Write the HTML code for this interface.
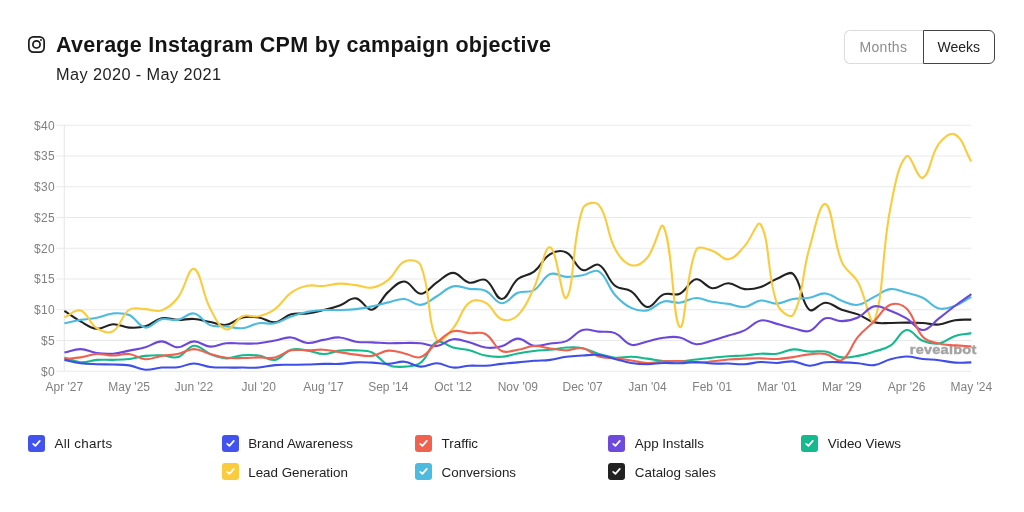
<!DOCTYPE html>
<html lang="en">
<head>
<meta charset="utf-8">
<title>Average Instagram CPM by campaign objective</title>
<style>
html,body{margin:0;padding:0;background:#fff;}
body{width:1024px;height:512px;position:relative;overflow:hidden;font-family:"Liberation Sans",sans-serif;color:#1a1a1a;}
.title{position:absolute;left:56px;top:31.6px;font-size:21.5px;font-weight:bold;line-height:26px;white-space:nowrap;color:#151515;letter-spacing:0.28px;}
.sub{position:absolute;left:56px;top:64.1px;font-size:16.3px;line-height:20px;white-space:nowrap;color:#222;letter-spacing:0.42px;}
.ig{position:absolute;left:28.1px;top:35.5px;width:17px;height:17px;}
.btns{position:absolute;left:844px;top:29.7px;height:34px;display:flex;}
.btn{box-sizing:border-box;height:34px;font-size:14px;line-height:33.6px;text-align:center;border:1px solid #dcdcdc;color:#8c8c8c;background:#fff;}
.btn.m{width:79px;letter-spacing:0.3px;padding-right:1.2px;border-radius:6px 0 0 6px;border-right:none;}
.btn.w{width:71.5px;border-radius:0 6px 6px 0;border-color:#444;color:#222;}
svg.chart{position:absolute;left:0;top:0;}
svg.chart text{font-family:"Liberation Sans",sans-serif;font-size:12px;fill:#808080;}
.legend{position:absolute;font-size:13.4px;line-height:18px;color:#222;white-space:nowrap;}
.cb{position:absolute;width:17px;height:17px;border-radius:3px;}
.cb svg{position:absolute;left:0;top:0;}
.wm{position:absolute;left:910px;top:341px;font-size:12px;font-weight:bold;letter-spacing:1.3px;color:#a9a9a9;line-height:16px;}
</style>
</head>
<body>
<svg class="ig" viewBox="0 0 17 17" fill="none" stroke="#1a1a1a" stroke-width="1.7">
<rect x="0.85" y="0.85" width="15.3" height="15.3" rx="4.6"/>
<circle cx="8.5" cy="8.4" r="3.6"/>
<circle cx="13" cy="4" r="0.95" fill="#1a1a1a" stroke="none"/>
</svg>
<div class="title">Average Instagram CPM by campaign objective</div>
<div class="sub">May 2020 - May 2021</div>
<div class="btns"><div class="btn m">Months</div><div class="btn w">Weeks</div></div>

<svg class="chart" width="1024" height="512" viewBox="0 0 1024 512">
<g stroke="#e9e9e9" stroke-width="1.2">
<line x1="56.5" x2="971.5" y1="371.25" y2="371.25"/>
<line x1="56.5" x2="971.5" y1="340.50" y2="340.50"/>
<line x1="56.5" x2="971.5" y1="309.75" y2="309.75"/>
<line x1="56.5" x2="971.5" y1="279.00" y2="279.00"/>
<line x1="56.5" x2="971.5" y1="248.25" y2="248.25"/>
<line x1="56.5" x2="971.5" y1="217.50" y2="217.50"/>
<line x1="56.5" x2="971.5" y1="186.75" y2="186.75"/>
<line x1="56.5" x2="971.5" y1="156.00" y2="156.00"/>
<line x1="56.5" x2="971.5" y1="125.25" y2="125.25"/>

<line x1="64.3" x2="64.3" y1="125.25" y2="371.25"/>
</g>
<g>
<text x="55" y="375.55" text-anchor="end" letter-spacing="0.35">$0</text>
<text x="55" y="344.80" text-anchor="end" letter-spacing="0.35">$5</text>
<text x="55" y="314.05" text-anchor="end" letter-spacing="0.35">$10</text>
<text x="55" y="283.30" text-anchor="end" letter-spacing="0.35">$15</text>
<text x="55" y="252.55" text-anchor="end" letter-spacing="0.35">$20</text>
<text x="55" y="221.80" text-anchor="end" letter-spacing="0.35">$25</text>
<text x="55" y="191.05" text-anchor="end" letter-spacing="0.35">$30</text>
<text x="55" y="160.30" text-anchor="end" letter-spacing="0.35">$35</text>
<text x="55" y="129.55" text-anchor="end" letter-spacing="0.35">$40</text>

</g>
<g>
<text x="64.40" y="391.3" text-anchor="middle">Apr '27</text>
<text x="129.18" y="391.3" text-anchor="middle">May '25</text>
<text x="193.96" y="391.3" text-anchor="middle">Jun '22</text>
<text x="258.74" y="391.3" text-anchor="middle">Jul '20</text>
<text x="323.52" y="391.3" text-anchor="middle">Aug '17</text>
<text x="388.30" y="391.3" text-anchor="middle">Sep '14</text>
<text x="453.08" y="391.3" text-anchor="middle">Oct '12</text>
<text x="517.86" y="391.3" text-anchor="middle">Nov '09</text>
<text x="582.64" y="391.3" text-anchor="middle">Dec '07</text>
<text x="647.42" y="391.3" text-anchor="middle">Jan '04</text>
<text x="712.20" y="391.3" text-anchor="middle">Feb '01</text>
<text x="776.98" y="391.3" text-anchor="middle">Mar '01</text>
<text x="841.76" y="391.3" text-anchor="middle">Mar '29</text>
<text x="906.54" y="391.3" text-anchor="middle">Apr '26</text>
<text x="971.32" y="391.3" text-anchor="middle">May '24</text>

</g>
<text id="wm" transform="translate(909.8,353.9) scale(1.145,1)" style="font-size:12.7px;font-weight:bold;fill:#a4a4a4;stroke:#a4a4a4;stroke-width:0.45px;letter-spacing:0.2px">revealbot</text>
<g fill="none" stroke-width="2.1" stroke-linecap="butt" stroke-linejoin="round">
<path d="M64.40 310.98C70.88 315.16 73.86 317.73 80.59 321.44C86.81 324.86 90.13 328.25 96.79 328.81C103.09 329.35 106.45 324.45 112.99 324.20C119.41 323.96 122.64 327.15 129.18 327.58C135.60 328.01 139.24 328.10 145.38 326.36C152.20 324.41 154.75 319.72 161.57 318.36C167.71 317.14 171.28 319.77 177.77 319.90C184.23 320.02 187.53 318.55 193.96 318.98C200.49 319.41 203.67 320.88 210.16 322.05C216.62 323.22 220.13 325.70 226.35 324.82C233.09 323.86 235.76 318.98 242.55 317.44C248.72 316.03 252.40 316.48 258.74 317.44C265.36 318.44 268.67 322.95 274.94 322.36C281.62 321.72 284.30 316.24 291.13 314.36C297.26 312.67 300.91 314.29 307.33 313.44C313.87 312.57 317.10 311.64 323.52 310.06C330.06 308.44 333.39 307.73 339.72 305.44C346.35 303.05 349.80 297.56 355.91 298.37C362.75 299.28 366.26 310.91 372.11 309.75C379.22 308.33 381.10 298.20 388.30 291.91C394.06 286.89 398.19 281.10 404.50 281.46C411.15 281.84 414.12 293.57 420.69 293.76C427.08 293.94 430.24 286.67 436.88 282.38C443.20 278.31 446.63 272.79 453.08 272.85C459.59 272.91 462.34 281.17 469.27 282.69C475.29 284.00 480.33 277.34 485.47 279.92C493.29 283.86 495.28 299.17 501.66 298.99C508.23 298.80 510.20 285.47 517.86 279.00C523.16 274.52 528.52 275.88 534.06 271.62C541.48 265.91 542.55 258.63 550.25 254.09C555.50 251.00 561.19 249.96 566.45 252.56C574.15 256.36 575.08 267.21 582.64 270.08C588.03 272.13 593.76 262.40 598.84 264.86C606.72 268.67 607.16 279.34 615.03 285.76C620.12 289.92 625.63 287.64 631.23 291.30C638.59 296.12 640.64 306.34 647.42 306.98C653.59 307.57 656.38 297.33 663.62 294.38C669.33 292.04 674.27 296.34 679.81 293.76C687.23 290.31 689.01 280.50 696.00 279.31C701.96 278.29 705.44 287.39 712.20 288.23C718.39 288.99 721.97 283.12 728.39 283.31C734.93 283.49 737.94 288.39 744.59 289.15C750.90 289.87 754.66 288.97 760.78 287.00C767.61 284.79 770.25 281.38 776.98 278.69C783.21 276.21 789.28 270.35 793.17 274.08C802.24 282.77 800.44 301.87 809.37 309.75C813.40 313.31 819.09 302.68 825.56 302.68C832.04 302.68 835.13 307.36 841.76 309.75C848.08 312.03 851.70 311.93 857.96 314.36C864.66 316.97 867.32 320.54 874.15 322.36C880.28 323.99 883.87 322.91 890.35 322.97C896.82 323.03 900.06 322.66 906.54 322.66C913.02 322.66 916.27 322.60 922.74 322.97C929.23 323.34 932.55 325.06 938.93 324.51C945.50 323.95 948.54 321.21 955.12 320.20C961.49 319.24 964.84 319.84 971.32 319.59" stroke="#222222"/>
<path d="M64.40 323.28C70.88 321.93 74.08 321.01 80.59 319.90C87.03 318.80 90.39 319.02 96.79 317.75C103.35 316.44 106.41 314.00 112.99 313.44C119.37 312.89 123.45 312.48 129.18 314.98C136.41 318.13 138.51 326.67 145.38 327.58C151.46 328.39 154.72 320.91 161.57 319.28C167.67 317.83 171.52 321.02 177.77 319.90C184.48 318.69 187.92 312.47 193.96 313.44C200.88 314.56 203.01 322.28 210.16 325.12C215.97 327.44 219.88 325.74 226.35 326.36C232.84 326.97 236.19 328.80 242.55 328.20C249.15 327.57 252.12 324.29 258.74 323.28C265.08 322.32 268.72 324.58 274.94 323.28C281.67 321.87 284.52 318.84 291.13 316.51C297.47 314.29 300.74 313.22 307.33 311.90C313.70 310.63 317.02 310.43 323.52 310.06C329.98 309.69 333.24 310.24 339.72 310.06C346.20 309.87 349.47 309.87 355.91 309.13C362.43 308.39 365.68 307.71 372.11 306.37C378.63 305.00 381.80 303.85 388.30 302.37C394.75 300.90 398.15 298.51 404.50 298.99C411.10 299.49 414.42 305.37 420.69 304.83C427.37 304.26 430.51 299.85 436.88 296.22C443.47 292.47 446.13 287.96 453.08 286.38C459.09 285.01 462.78 287.98 469.27 288.84C475.74 289.70 479.74 288.13 485.47 290.69C492.69 293.91 494.98 302.85 501.66 303.29C507.94 303.71 510.87 295.69 517.86 292.84C523.82 290.40 528.62 293.22 534.06 290.07C541.58 285.71 542.73 277.15 550.25 274.08C555.68 271.86 559.93 276.60 566.45 276.85C572.89 277.09 576.24 276.40 582.64 275.31C589.20 274.19 594.07 268.42 598.84 271.31C607.03 276.29 607.51 286.49 615.03 294.99C620.46 301.13 623.99 304.47 631.23 307.90C636.95 310.62 641.33 311.58 647.42 310.37C654.29 309.00 656.72 303.08 663.62 301.45C669.67 300.01 673.45 303.34 679.81 302.68C686.40 301.99 689.48 298.25 696.00 298.06C702.44 297.88 705.67 300.58 712.20 301.75C718.62 302.91 721.95 302.87 728.39 303.91C734.90 304.96 738.29 307.64 744.59 306.98C751.25 306.29 754.13 301.22 760.78 300.52C767.08 299.87 770.57 303.90 776.98 303.60C783.53 303.29 786.58 300.18 793.17 298.99C799.54 297.84 802.99 298.85 809.37 297.76C815.95 296.63 819.28 292.86 825.56 293.45C832.24 294.09 835.07 298.48 841.76 300.83C848.03 303.03 851.73 305.60 857.96 304.83C864.69 304.00 867.65 299.98 874.15 296.83C880.60 293.71 883.62 289.98 890.35 289.15C896.58 288.38 900.12 291.13 906.54 292.84C913.08 294.58 916.71 294.84 922.74 297.76C929.66 301.11 931.91 306.79 938.93 308.52C944.86 309.98 949.03 307.95 955.12 305.75C961.98 303.28 964.84 300.40 971.32 296.83" stroke="#4DBBE0"/>
<path d="M64.40 317.38C70.88 314.65 75.11 308.72 80.59 310.55C88.07 313.05 89.12 323.29 96.79 328.20C102.07 331.58 108.07 334.08 112.99 331.27C121.02 326.70 121.09 315.28 129.18 309.75C134.05 306.42 138.90 309.01 145.38 309.13C151.86 309.26 155.85 312.38 161.57 310.37C168.80 307.82 172.81 304.11 177.77 297.76C185.77 287.50 188.31 266.98 193.96 268.85C201.27 271.28 202.14 293.54 210.16 308.52C215.10 317.77 219.11 327.71 226.35 329.43C232.07 330.79 235.24 319.19 242.55 316.21C248.20 313.90 252.54 317.56 258.74 316.21C265.50 314.73 269.33 313.23 274.94 309.13C282.29 303.76 283.75 297.85 291.13 292.53C296.71 288.50 300.59 287.11 307.33 285.76C313.54 284.53 317.08 286.50 323.52 286.07C330.03 285.64 333.21 283.80 339.72 283.61C346.17 283.43 349.45 284.35 355.91 285.15C362.41 285.95 365.92 288.61 372.11 287.61C378.87 286.52 382.83 284.33 388.30 279.92C395.79 273.88 396.78 264.91 404.50 261.47C409.74 259.13 418.36 259.83 420.69 265.47C431.32 291.20 426.62 320.01 436.88 339.88C439.58 345.10 447.93 334.12 453.08 328.20C460.88 319.24 460.84 309.32 469.27 302.68C473.79 299.12 480.14 299.95 485.47 302.68C493.10 306.59 494.13 316.35 501.66 319.28C507.08 321.39 513.43 319.62 517.86 315.28C526.38 306.95 528.55 299.16 534.06 287.61C541.51 271.97 544.41 245.50 550.25 247.33C557.37 249.56 561.66 303.44 566.45 297.76C574.61 288.07 571.70 240.25 582.64 208.89C584.66 203.10 595.43 200.69 598.84 204.89C608.39 216.68 606.34 232.69 615.03 248.87C619.29 256.80 623.95 263.23 631.23 265.16C636.90 266.67 643.01 262.71 647.42 257.48C655.97 247.33 660.31 219.64 663.62 226.72C673.27 247.43 672.51 321.70 679.81 326.97C685.46 331.05 685.26 275.38 696.00 250.09C698.22 244.88 706.12 248.98 712.20 250.71C719.08 252.67 722.34 260.18 728.39 259.32C735.30 258.34 738.93 252.17 744.59 246.10C751.88 238.27 757.54 218.81 760.78 224.57C770.50 241.82 766.56 274.61 776.98 303.60C779.51 310.65 790.29 319.61 793.17 314.67C803.24 297.47 801.70 274.46 809.37 248.25C814.66 230.18 819.87 201.59 825.56 203.97C832.82 207.00 832.72 239.97 841.76 261.78C845.67 271.21 853.00 273.05 857.96 282.07C865.96 296.67 870.66 328.78 874.15 320.82C883.61 299.26 881.58 252.78 890.35 208.27C894.54 186.97 897.87 164.45 906.54 156.31C910.83 152.28 917.34 179.93 922.74 177.83C930.30 174.89 930.25 155.31 938.93 143.70C943.21 137.97 950.31 131.82 955.12 134.47C963.27 138.96 964.84 150.71 971.32 161.53" stroke="#FBCB3E"/>
<path d="M64.40 357.41C70.88 359.38 74.01 361.83 80.59 362.33C86.97 362.82 90.28 360.37 96.79 359.87C103.23 359.38 106.51 360.06 112.99 359.87C119.47 359.69 122.75 359.74 129.18 358.95C135.71 358.14 138.84 356.62 145.38 355.88C151.80 355.14 155.11 355.01 161.57 355.26C168.07 355.51 171.91 358.83 177.77 357.11C184.87 355.01 187.21 346.37 193.96 345.73C200.17 345.14 203.41 351.40 210.16 354.03C216.37 356.45 219.82 358.09 226.35 358.33C232.77 358.58 236.01 355.82 242.55 355.26C248.97 354.71 252.37 354.66 258.74 355.57C265.33 356.51 268.88 360.96 274.94 359.87C281.84 358.63 284.12 351.79 291.13 349.73C297.08 347.98 300.93 349.49 307.33 350.34C313.88 351.21 317.03 353.97 323.52 354.03C329.99 354.09 333.17 351.39 339.72 350.65C346.12 349.92 349.46 349.97 355.91 350.34C362.42 350.71 366.36 349.88 372.11 352.49C379.32 355.78 381.07 361.94 388.30 365.10C394.03 367.60 398.10 367.12 404.50 366.64C411.05 366.14 415.68 366.49 420.69 362.64C428.64 356.53 429.04 345.38 436.88 341.73C441.99 339.35 446.45 345.81 453.08 347.57C459.41 349.25 462.91 348.77 469.27 350.34C475.87 351.97 478.84 354.25 485.47 355.57C491.80 356.83 495.25 357.22 501.66 356.80C508.20 356.36 511.35 354.59 517.86 353.42C524.31 352.25 527.55 351.70 534.06 350.95C540.51 350.22 543.79 350.40 550.25 349.73C556.75 349.05 559.94 347.88 566.45 347.57C572.90 347.27 576.36 346.94 582.64 348.19C589.31 349.52 592.24 352.09 598.84 354.03C605.20 355.90 608.48 357.16 615.03 357.72C621.43 358.27 624.76 356.61 631.23 356.80C637.72 356.98 640.96 357.78 647.42 358.64C653.91 359.51 657.10 360.55 663.62 361.10C670.06 361.65 673.35 361.72 679.81 361.41C686.31 361.10 689.53 360.30 696.00 359.56C702.48 358.83 705.72 358.40 712.20 357.72C718.67 357.04 721.90 356.61 728.39 356.18C734.86 355.75 738.13 356.06 744.59 355.57C751.09 355.07 754.29 354.09 760.78 353.72C767.24 353.35 770.61 354.57 776.98 353.72C783.57 352.85 786.61 349.85 793.17 349.42C799.57 348.99 802.86 351.14 809.37 351.57C815.82 352.00 819.29 350.44 825.56 351.57C832.24 352.77 835.10 356.53 841.76 357.41C848.05 358.25 851.57 357.03 857.96 355.88C864.53 354.69 867.76 353.57 874.15 351.57C880.72 349.51 884.73 349.46 890.35 345.73C897.69 340.85 899.58 331.10 906.54 330.05C912.54 329.13 915.71 337.87 922.74 340.81C928.67 343.29 932.73 344.52 938.93 343.57C945.69 342.55 948.36 338.07 955.12 335.89C961.32 333.89 964.84 334.23 971.32 333.12" stroke="#14B98D"/>
<path d="M64.40 352.49C70.88 351.14 74.14 348.99 80.59 349.11C87.10 349.23 90.22 352.17 96.79 353.11C103.17 354.02 106.56 354.21 112.99 353.72C119.52 353.23 122.71 351.94 129.18 350.65C135.67 349.35 139.03 349.07 145.38 347.26C151.98 345.38 155.09 341.42 161.57 341.42C168.05 341.42 171.29 347.26 177.77 347.26C184.24 347.26 187.44 341.55 193.96 341.42C200.40 341.30 203.59 346.28 210.16 346.65C216.54 347.01 219.80 343.89 226.35 343.27C232.76 342.66 236.07 343.57 242.55 343.57C249.02 343.57 252.31 343.88 258.74 343.27C265.26 342.65 268.47 341.67 274.94 340.50C281.42 339.33 284.77 336.94 291.13 337.43C297.73 337.93 300.73 342.46 307.33 342.96C313.68 343.44 317.02 341.00 323.52 339.88C329.98 338.78 333.31 337.06 339.72 337.43C346.27 337.80 349.32 340.73 355.91 341.73C362.28 342.70 365.63 342.04 372.11 342.35C378.59 342.65 381.82 343.14 388.30 343.27C394.77 343.39 398.02 342.96 404.50 342.96C410.97 342.96 414.26 342.66 420.69 343.27C427.21 343.89 430.62 346.81 436.88 346.04C443.58 345.21 446.40 340.03 453.08 339.27C459.35 338.56 462.90 340.71 469.27 342.35C475.86 344.03 478.84 346.75 485.47 347.57C491.80 348.35 495.51 348.04 501.66 346.34C508.46 344.47 511.34 338.78 517.86 338.65C524.29 338.53 527.32 344.70 534.06 345.73C540.28 346.67 543.78 344.50 550.25 343.57C556.74 342.65 560.55 343.58 566.45 341.12C573.51 338.17 575.56 332.13 582.64 330.05C588.51 328.32 592.36 330.97 598.84 331.58C605.31 332.20 609.21 330.75 615.03 333.12C622.17 336.03 624.14 342.99 631.23 344.81C637.10 346.31 640.95 342.83 647.42 341.42C653.91 340.01 657.06 338.54 663.62 337.73C670.01 336.94 673.59 336.19 679.81 337.43C686.55 338.77 689.35 343.56 696.00 344.19C702.30 344.79 705.78 342.21 712.20 340.50C718.74 338.76 721.93 337.60 728.39 335.58C734.89 333.55 738.46 333.20 744.59 330.35C751.42 327.18 753.87 321.89 760.78 320.51C766.82 319.31 770.54 322.37 776.98 323.89C783.50 325.44 786.63 326.77 793.17 328.20C799.59 329.60 803.61 332.72 809.37 330.97C816.57 328.78 818.37 320.55 825.56 318.36C831.33 316.61 835.32 321.31 841.76 321.13C848.27 320.94 852.01 320.14 857.96 317.44C864.97 314.24 867.16 307.83 874.15 306.37C880.12 305.12 884.09 308.35 890.35 310.67C897.04 313.15 900.41 314.69 906.54 318.36C913.37 322.44 916.26 330.05 922.74 330.05C929.21 330.05 932.54 323.15 938.93 318.36C945.50 313.44 948.56 310.68 955.12 305.75C961.51 300.96 964.84 298.74 971.32 294.07" stroke="#6B47DC"/>
<path d="M64.40 358.95C70.88 358.33 74.17 358.39 80.59 357.41C87.13 356.42 90.26 354.40 96.79 354.03C103.21 353.66 106.51 355.57 112.99 355.57C119.46 355.57 122.85 353.31 129.18 354.03C135.80 354.78 138.81 358.88 145.38 359.26C151.76 359.62 155.04 356.93 161.57 355.88C168.00 354.84 171.41 355.36 177.77 354.03C184.37 352.65 187.48 349.11 193.96 349.11C200.44 349.11 203.62 352.29 210.16 354.03C216.57 355.74 219.79 356.91 226.35 357.72C232.75 358.51 236.07 358.09 242.55 358.03C249.02 357.97 252.26 357.54 258.74 357.41C265.22 357.29 268.74 358.77 274.94 357.41C281.70 355.94 284.37 351.82 291.13 350.34C297.33 348.99 300.85 350.46 307.33 350.34C313.81 350.22 317.08 349.36 323.52 349.73C330.03 350.10 333.24 351.20 339.72 352.19C346.19 353.17 349.40 353.90 355.91 354.64C362.36 355.38 365.78 356.66 372.11 355.88C378.73 355.06 381.71 351.15 388.30 350.65C394.66 350.16 398.05 352.13 404.50 353.42C411.01 354.71 415.07 358.97 420.69 357.11C428.03 354.67 430.11 348.06 436.88 342.65C443.06 337.72 445.98 333.37 453.08 331.27C458.93 329.55 462.78 332.57 469.27 333.12C475.74 333.67 480.17 331.12 485.47 334.04C493.12 338.26 494.02 347.25 501.66 350.95C506.97 353.52 511.45 350.70 517.86 349.73C524.41 348.73 527.53 346.28 534.06 346.04C540.49 345.79 543.76 347.63 550.25 348.50C556.71 349.35 559.97 350.40 566.45 350.34C572.93 350.28 576.51 347.02 582.64 348.19C589.47 349.48 592.00 354.35 598.84 356.49C604.96 358.41 608.56 357.54 615.03 358.33C621.52 359.14 624.76 359.57 631.23 360.49C637.71 361.41 640.92 362.76 647.42 362.95C653.88 363.13 657.12 361.78 663.62 361.41C670.08 361.04 673.35 360.86 679.81 361.10C686.30 361.35 689.52 362.58 696.00 362.64C702.48 362.70 705.73 362.02 712.20 361.41C718.69 360.79 721.90 360.12 728.39 359.56C734.86 359.01 738.11 358.89 744.59 358.64C751.06 358.40 754.31 358.27 760.78 358.33C767.26 358.40 770.52 359.20 776.98 358.95C783.48 358.70 786.72 358.02 793.17 357.11C799.68 356.18 802.85 354.96 809.37 354.34C815.80 353.73 819.30 352.90 825.56 354.03C832.26 355.24 836.85 362.79 841.76 360.18C849.81 355.90 850.70 345.49 857.96 336.81C863.65 329.99 867.79 327.71 874.15 321.44C880.75 314.92 882.80 307.84 890.35 304.83C895.75 302.67 902.17 304.20 906.54 308.52C915.12 316.99 914.31 327.70 922.74 336.81C927.27 341.72 932.21 341.79 938.93 343.57C945.17 345.23 948.63 344.87 955.12 345.42C961.59 345.97 964.84 345.97 971.32 346.34" stroke="#F0624F"/>
<path d="M64.40 359.87C70.88 361.23 74.05 362.39 80.59 363.25C87.01 364.11 90.31 363.93 96.79 364.18C103.26 364.42 106.51 364.24 112.99 364.49C119.47 364.73 122.81 364.38 129.18 365.41C135.76 366.47 138.81 369.28 145.38 369.71C151.77 370.14 155.06 368.05 161.57 367.56C168.02 367.07 171.37 368.04 177.77 367.25C184.32 366.44 187.47 363.62 193.96 363.56C200.43 363.50 203.61 366.14 210.16 366.94C216.57 367.74 219.87 367.44 226.35 367.56C232.83 367.68 236.07 367.56 242.55 367.56C249.02 367.56 252.30 368.05 258.74 367.56C265.25 367.07 268.42 365.66 274.94 365.10C281.38 364.55 284.65 364.92 291.13 364.79C297.61 364.67 300.85 364.67 307.33 364.49C313.80 364.30 317.04 363.99 323.52 363.87C330.00 363.75 333.25 364.18 339.72 363.87C346.21 363.56 349.42 362.58 355.91 362.33C362.37 362.09 365.64 362.33 372.11 362.64C378.59 362.95 381.84 364.05 388.30 363.87C394.80 363.68 398.13 361.17 404.50 361.72C411.09 362.28 414.14 366.33 420.69 366.64C427.09 366.94 430.45 363.07 436.88 363.25C443.40 363.44 446.51 367.06 453.08 367.56C459.47 368.05 462.78 366.09 469.27 365.71C475.73 365.35 479.01 366.08 485.47 365.71C491.97 365.34 495.18 364.55 501.66 363.87C508.14 363.19 511.38 362.95 517.86 362.33C524.34 361.72 527.57 361.29 534.06 360.80C540.52 360.30 543.82 360.67 550.25 359.87C556.78 359.07 559.92 357.66 566.45 356.80C572.87 355.94 576.16 355.94 582.64 355.57C589.11 355.20 592.45 354.29 598.84 354.95C605.41 355.64 608.55 357.35 615.03 358.95C621.51 360.55 624.66 361.89 631.23 362.95C637.62 363.98 640.94 364.18 647.42 364.18C653.90 364.18 657.13 363.13 663.62 362.95C670.08 362.76 673.34 363.44 679.81 363.25C686.30 363.07 689.53 361.96 696.00 362.02C702.49 362.09 705.71 363.25 712.20 363.56C718.66 363.87 721.92 363.44 728.39 363.56C734.88 363.69 738.14 364.48 744.59 364.18C751.09 363.87 754.28 362.27 760.78 362.02C767.24 361.78 770.51 363.07 776.98 362.95C783.47 362.82 786.79 360.86 793.17 361.41C799.75 361.97 802.85 365.53 809.37 365.71C815.81 365.90 819.02 363.02 825.56 362.33C831.97 361.66 835.29 362.15 841.76 362.33C848.24 362.52 851.49 362.70 857.96 363.25C864.45 363.81 867.85 365.88 874.15 365.10C880.81 364.28 883.72 361.02 890.35 359.26C896.67 357.58 900.05 356.55 906.54 356.49C913.01 356.43 916.23 358.21 922.74 358.95C929.19 359.68 932.48 359.45 938.93 360.18C945.44 360.92 948.61 362.21 955.12 362.64C961.57 363.07 964.84 362.46 971.32 362.33" stroke="#3E4EEA"/>

</g>
</svg>

<div class="cb" style="left:27.9px;top:434.8px;background:#4252EE"><svg width="17" height="17" viewBox="0 0 17 17"><path d="M5.2 8.8L7.4 10.9L11.8 5.9" fill="none" stroke="#fff" stroke-width="1.7" stroke-linecap="round" stroke-linejoin="round"/></svg></div>
<div class="legend" style="left:54.5px;top:435.2px;letter-spacing:0.3px">All charts</div>
<div class="cb" style="left:221.6px;top:434.8px;background:#4252EE"><svg width="17" height="17" viewBox="0 0 17 17"><path d="M5.2 8.8L7.4 10.9L11.8 5.9" fill="none" stroke="#fff" stroke-width="1.7" stroke-linecap="round" stroke-linejoin="round"/></svg></div>
<div class="legend" style="left:248.2px;top:435.2px">Brand Awareness</div>
<div class="cb" style="left:221.6px;top:463.1px;background:#FBCB3E"><svg width="17" height="17" viewBox="0 0 17 17"><path d="M5.2 8.8L7.4 10.9L11.8 5.9" fill="none" stroke="#fff" stroke-width="1.7" stroke-linecap="round" stroke-linejoin="round"/></svg></div>
<div class="legend" style="left:248.2px;top:463.5px">Lead Generation</div>
<div class="cb" style="left:415.0px;top:434.8px;background:#F0624F"><svg width="17" height="17" viewBox="0 0 17 17"><path d="M5.2 8.8L7.4 10.9L11.8 5.9" fill="none" stroke="#fff" stroke-width="1.7" stroke-linecap="round" stroke-linejoin="round"/></svg></div>
<div class="legend" style="left:441.6px;top:435.2px">Traffic</div>
<div class="cb" style="left:415.0px;top:463.1px;background:#4DBBE0"><svg width="17" height="17" viewBox="0 0 17 17"><path d="M5.2 8.8L7.4 10.9L11.8 5.9" fill="none" stroke="#fff" stroke-width="1.7" stroke-linecap="round" stroke-linejoin="round"/></svg></div>
<div class="legend" style="left:441.6px;top:463.5px">Conversions</div>
<div class="cb" style="left:608.2px;top:434.8px;background:#6E49DE"><svg width="17" height="17" viewBox="0 0 17 17"><path d="M5.2 8.8L7.4 10.9L11.8 5.9" fill="none" stroke="#fff" stroke-width="1.7" stroke-linecap="round" stroke-linejoin="round"/></svg></div>
<div class="legend" style="left:634.8px;top:435.2px">App Installs</div>
<div class="cb" style="left:608.2px;top:463.1px;background:#222222"><svg width="17" height="17" viewBox="0 0 17 17"><path d="M5.2 8.8L7.4 10.9L11.8 5.9" fill="none" stroke="#fff" stroke-width="1.7" stroke-linecap="round" stroke-linejoin="round"/></svg></div>
<div class="legend" style="left:634.8px;top:463.5px">Catalog sales</div>
<div class="cb" style="left:801.2px;top:434.8px;background:#14B98D"><svg width="17" height="17" viewBox="0 0 17 17"><path d="M5.2 8.8L7.4 10.9L11.8 5.9" fill="none" stroke="#fff" stroke-width="1.7" stroke-linecap="round" stroke-linejoin="round"/></svg></div>
<div class="legend" style="left:827.8px;top:435.2px">Video Views</div>

</body>
</html>
